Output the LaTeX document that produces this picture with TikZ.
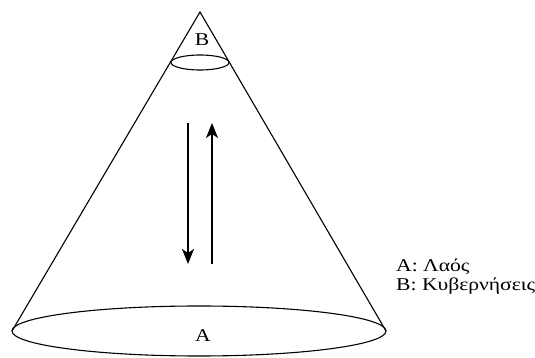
\documentclass[tikz,border=0pt]{standalone}
\usepackage{fontspec}
\setmainfont[FakeStretch=1.2]{Liberation Serif}
\usetikzlibrary{arrows.meta, positioning}

\tikzset{
  outline/.style={line width=1.1pt, black},
  flow/.style={line width=2pt, -{Stealth[length=15pt, width=12pt, inset=4pt]}},
  lbl/.style={font=\fontsize{18}{21}\selectfont, inner sep=0pt},
  legend/.style={font=\fontsize{18}{21}\selectfont, inner sep=0pt, anchor=base west}
}

\begin{document}
\begin{tikzpicture}[x=1pt, y=1pt]
  \useasboundingbox (0,0) rectangle (535,358);
  % cone
  \coordinate (apex) at (200,346);
  \coordinate (baseL) at (12,27);
  \coordinate (baseR) at (386,27);
  \draw[outline] (baseL) -- (apex) -- (baseR);
  \draw[outline] (199,27) ellipse (187 and 25);
  \draw[outline] (200,295.5) ellipse (29 and 7.5);
  % labels
  \node[lbl] (B) at (202,318) {B};
  \node[lbl] (A) at (203,22) {A};
  % arrows
  \coordinate (downS) at (188,235);
  \coordinate (downE) at (188,94);
  \coordinate (upS) at (212,94);
  \coordinate (upE) at (212,235);
  \draw[flow] (downS) -- (downE);
  \draw[flow] (upS) -- (upE);
  % legend
  \node[legend] (legA) at (396,86) {A: Λαός};
  \node[legend] (legB) at (396,67) {B: Κυβερνήσεις};
\end{tikzpicture}
\end{document}
